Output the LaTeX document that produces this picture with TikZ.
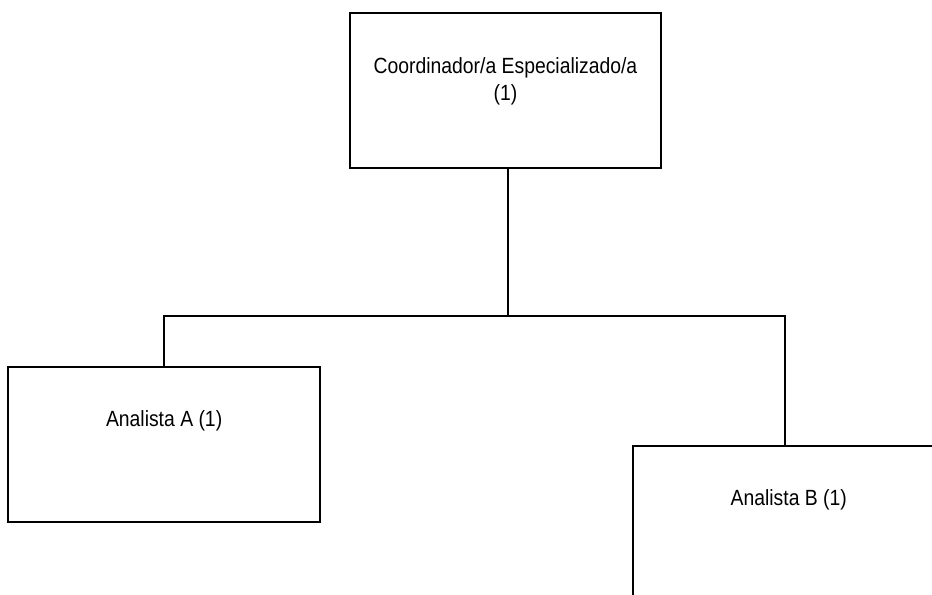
\documentclass[tikz,border=0pt]{standalone}
\usepackage{fontspec}
\setmainfont{Liberation Sans}[FakeStretch=0.88]
\usepackage{tikz}
\usetikzlibrary{positioning}

\begin{document}
\begin{tikzpicture}[
    orgbox/.style={
        rectangle, draw=black, line width=1.4pt,
        minimum width=233.6pt, minimum height=116.25pt, inner sep=0pt
    },
    boxtext/.style={
        align=center, font=\fontsize{16.5}{20.6}\selectfont, inner sep=0pt
    },
    link/.style={draw=black, line width=1.4pt}
]
    \useasboundingbox (0,0) rectangle (699pt,-445.5pt);
    \clip (0,0) rectangle (699pt,-445.5pt);

    \node [orgbox] (coord) at (379.1pt,-67.9pt) {};
    \node [orgbox, below left=147.75pt and 21pt of coord]   (analistaA) {};
    \node [orgbox, below right=207pt and -22.5pt of coord]  (analistaB) {};

    \node [boxtext] (coordtext) at ([yshift=-51.75pt]coord.north)
        {Coordinador/a Especializado/a\\(1)};
    \node [boxtext] (analistaAtext) at ([yshift=-40.75pt]analistaA.north) {Analista A (1)};
    \node [boxtext] (analistaBtext) at ([yshift=-41.25pt]analistaB.north) {Analista B (1)};

    \coordinate [below=110.25pt of coord.south, xshift=1.9pt] (bus);

    \draw [link] ([xshift=1.9pt]coord.south) -- (bus);
    \draw [link] (analistaA.north) |- (bus) -| ([xshift=-3pt]analistaB.north);
\end{tikzpicture}
\end{document}
